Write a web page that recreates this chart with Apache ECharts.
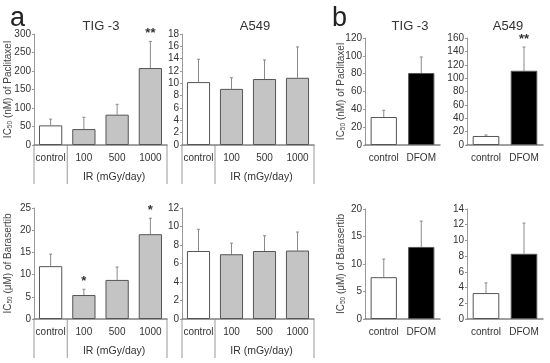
<!DOCTYPE html>
<html><head><meta charset="utf-8">
<script src="https://cdn.jsdelivr.net/npm/echarts@6/dist/echarts.min.js"></script>
<style>html,body{margin:0;padding:0;background:#fff}#c{width:550px;height:363px}</style>
</head><body><div id="c"></div>
<script>
// ---- data ----
const catsA = ['control', '100', '500', '1000'];
const catsB = ['control', 'DFOM'];
const tigPacA = [53, 43, 82, 208];
const tigPacAErr = [70, 75, 110, 280];
const tigPacAStar = ['', '', '', '**'];
const a549PacA = [10.2, 9.1, 10.7, 10.9];
const a549PacAErr = [13.9, 10.9, 13.8, 15.9];
const tigBarA = [11.9, 5.4, 8.8, 19.1];
const tigBarAErr = [14.6, 6.7, 11.7, 22.7];
const tigBarAStar = ['', '*', '', '*'];
const a549BarA = [7.35, 7.0, 7.35, 7.4];
const a549BarAErr = [9.7, 8.2, 9.0, 9.4];
const tigPacB = [31.4, 80.7];
const tigPacBErr = [39, 98.7];
const a549PacB = [13.5, 111];
const a549PacBErr = [15, 146.5];
const a549PacBStar = ['', '**'];
const tigBarB = [7.6, 13.1];
const tigBarBErr = [10.9, 17.8];
const a549BarB = [3.3, 8.3];
const a549BarBErr = [4.6, 12.2];
const yTicks = {a1:[0,300,50], a2:[0,18,2], a3:[0,25,5], a4:[0,12,2], b1:[0,120,20], b2:[0,160,20], b3:[0,20,5], b4:[0,14,2]};
const irLabel = 'IR (mGy/day)';

const FONT = "'Liberation Sans', Arial, sans-serif";
const panels = [
  {id:'a1', cats:catsA, v:tigPacA, e:tigPacAErr, s:tigPacAStar, grid:{left:34, top:34, width:133, height:111}, name:'pac', alt:'#c4c4c4'},
  {id:'a2', cats:catsA, v:a549PacA, e:a549PacAErr, s:null, grid:{left:182, top:34, width:132, height:111}, name:null, alt:'#c4c4c4'},
  {id:'a3', cats:catsA, v:tigBarA, e:tigBarAErr, s:tigBarAStar, grid:{left:34, top:208, width:133, height:111}, name:'bar', alt:'#c4c4c4'},
  {id:'a4', cats:catsA, v:a549BarA, e:a549BarAErr, s:null, grid:{left:182, top:208, width:132, height:111}, name:null, alt:'#c4c4c4'},
  {id:'b1', cats:catsB, v:tigPacB, e:tigPacBErr, s:null, grid:{left:365, top:38, width:75, height:107}, name:'pac', alt:'#000'},
  {id:'b2', cats:catsB, v:a549PacB, e:a549PacBErr, s:a549PacBStar, grid:{left:467, top:38, width:76, height:107}, name:null, alt:'#000'},
  {id:'b3', cats:catsB, v:tigBarB, e:tigBarBErr, s:null, grid:{left:365, top:209, width:75, height:110}, name:'bar', alt:'#000'},
  {id:'b4', cats:catsB, v:a549BarB, e:a549BarBErr, s:null, grid:{left:467, top:209, width:76, height:110}, name:null, alt:'#000'}
];
const names = {
  pac: 'IC{s|50} (nM) of Paclitaxel',
  bar: 'IC{s|50} (\u03bcM) of Barasertib'
};

const grid = [], xAxis = [], yAxis = [], series = [];
panels.forEach((p, i) => {
  grid.push(Object.assign({containLabel:false}, p.grid));
  xAxis.push({
    type:'category', gridIndex:i, data:p.cats,
    axisLine:{lineStyle:{color:'#808080', width:1.5}},
    axisTick:{show:false},
    axisLabel:{interval:0, color:'#333', fontSize:10, fontFamily:FONT, margin:8}
  });
  const t = yTicks[p.id];
  yAxis.push({
    type:'value', gridIndex:i, min:t[0], max:t[1], interval:t[2],
    axisLine:{show:true, lineStyle:{color:'#999', width:1}},
    axisTick:{show:true, length:2, lineStyle:{color:'#999'}},
    splitLine:{show:false},
    axisLabel:{color:'#333', fontSize:10, fontFamily:FONT, margin:3},
    name: p.name ? names[p.name] : '',
    nameLocation:'middle', nameRotate:90, nameGap:p.id[0]==='a' ? 20 : 18,
    nameMoveOverlap:false,
    nameTextStyle:{color:'#444', fontSize:10, fontFamily:FONT,
      rich:{s:{fontSize:6.5, color:'#444', fontFamily:FONT, padding:[4,0,0,0]}}}
  });
  series.push({
    type:'bar', xAxisIndex:i, yAxisIndex:i, barCategoryGap:'30%',
    data:p.v.map((v, k) => ({value:v, itemStyle:{color:k===0 ? '#fff' : p.alt}})),
    itemStyle:{borderColor:'#555', borderWidth:1},
    silent:true, animation:false
  });
  series.push({
    type:'custom', xAxisIndex:i, yAxisIndex:i, animation:false, silent:true,
    data:p.v.map((v, k) => [k, v, p.e[k]]),
    renderItem:function(params, api){
      const b = api.coord([api.value(0), api.value(1)]);
      const t = api.coord([api.value(0), api.value(2)]);
      const star = p.s ? p.s[params.dataIndex] : '';
      const ch = [
        {type:'line', shape:{x1:b[0], y1:b[1], x2:t[0], y2:t[1]}, style:{stroke:'#8a8a8a', lineWidth:1}},
        {type:'line', shape:{x1:t[0]-1.5, y1:t[1], x2:t[0]+1.5, y2:t[1]}, style:{stroke:'#8a8a8a', lineWidth:1}}
      ];
      if (star) ch.push({type:'text', style:{text:star, x:t[0], y:t[1]-1, align:'center', verticalAlign:'bottom', fontSize:13, fontWeight:'bold', fill:'#333', fontFamily:FONT}});
      return {type:'group', children:ch};
    }
  });
});

const T = {fontSize:13, fontWeight:'normal', color:'#333', fontFamily:FONT};
const titles = [
  {text:'a', left:5, top:0, textStyle:{fontSize:27, fontWeight:'normal', color:'#222', fontFamily:FONT}},
  {text:'b', left:327, top:0, textStyle:{fontSize:27, fontWeight:'normal', color:'#222', fontFamily:FONT}},
  {text:'TIG -3', left:96, top:15, textAlign:'center', textStyle:T},
  {text:'A549', left:250, top:15, textAlign:'center', textStyle:T},
  {text:'TIG -3', left:405, top:15, textAlign:'center', textStyle:T},
  {text:'A549', left:503, top:15, textAlign:'center', textStyle:T}
];

const chart = echarts.init(document.getElementById('c'), null, {renderer:'canvas'});
chart.setOption({animation:false, backgroundColor:'#fff', title:titles, grid, xAxis, yAxis, series});

// table-like separators under panel a axes
const g = [];
panels.forEach((p, i) => {
  if (p.id[0] !== 'a') return;
  const c0 = chart.convertToPixel({xAxisIndex:i, yAxisIndex:i}, [0, 0]);
  const c1 = chart.convertToPixel({xAxisIndex:i, yAxisIndex:i}, [1, 0]);
  const c3 = chart.convertToPixel({xAxisIndex:i, yAxisIndex:i}, [p.cats.length - 1, 0]);
  const band = c1[0] - c0[0];
  const xs = [c0[0] - band/2, (c0[0] + c1[0])/2, c3[0] + band/2];
  const y0 = c0[1];
  xs.forEach(x => g.push({type:'line', shape:{x1:x, y1:y0, x2:x, y2:y0 + 39}, style:{stroke:'#999', lineWidth:1}}));
  g.push({type:'text', style:{text:irLabel, x:(xs[1] + xs[2])/2 - 3, y:y0 + 32, align:'center', verticalAlign:'middle', fontSize:10.5, fill:'#333', fontFamily:FONT}});
});
chart.setOption({graphic:g});
</script>
</body></html>
